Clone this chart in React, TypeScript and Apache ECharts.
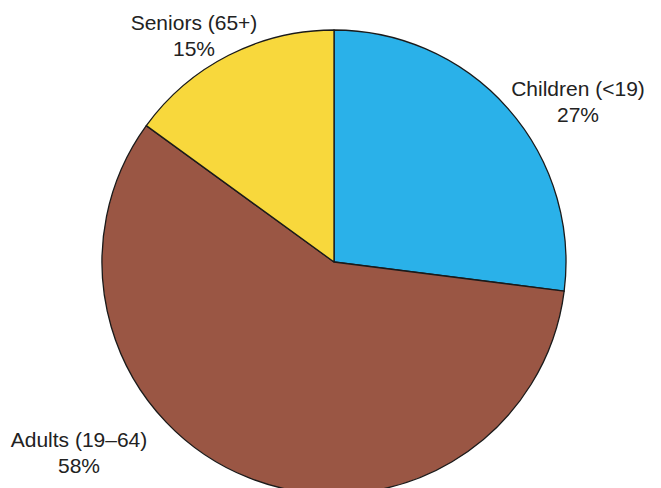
import React, { useEffect, useRef } from "react";
import * as echarts from "echarts";

const categories = ["Children (<19)", "Adults (19–64)", "Seniors (65+)"];
const shares = [27, 58, 15];
const colors = ["#2AB1E9", "#9A5644", "#F8D83C"];
const labelPos: [number, number][] = [
  [578, 101],
  [79, 452],
  [194, 35],
];

export default function App() {
  const ref = useRef<HTMLDivElement>(null);
  useEffect(() => {
    const chart = echarts.init(ref.current!, undefined, { renderer: "svg" });
    chart.setOption({
      animation: false,
      backgroundColor: "#ffffff",
      series: [
        {
          type: "pie",
          center: [334, 262],
          radius: 232,
          startAngle: 90,
          clockwise: true,
          silent: true,
          itemStyle: { borderColor: "#1a1a1a", borderWidth: 1.3 },
          label: {
            show: true,
            position: "outside",
            formatter: (p: any) => `${p.name}\n${p.value}%`,
            fontFamily: "Liberation Sans, Arial, sans-serif",
            fontSize: 21,
            lineHeight: 26,
            color: "#222222",
            align: "center",
            overflow: "none",
            width: 220,
          },
          labelLine: { show: false },
          labelLayout: (params: any) => {
            const pos = labelPos[params.dataIndex];
            return { x: pos[0], y: pos[1], align: "center", verticalAlign: "middle" };
          },
          data: categories.map((name, i) => ({
            name,
            value: shares[i],
            itemStyle: { color: colors[i] },
          })),
        },
      ],
    });
    return () => chart.dispose();
  }, []);
  return (
    <div
      ref={ref}
      style={{ position: "fixed", left: 0, top: 0, width: 661, height: 488 }}
    />
  );
}
